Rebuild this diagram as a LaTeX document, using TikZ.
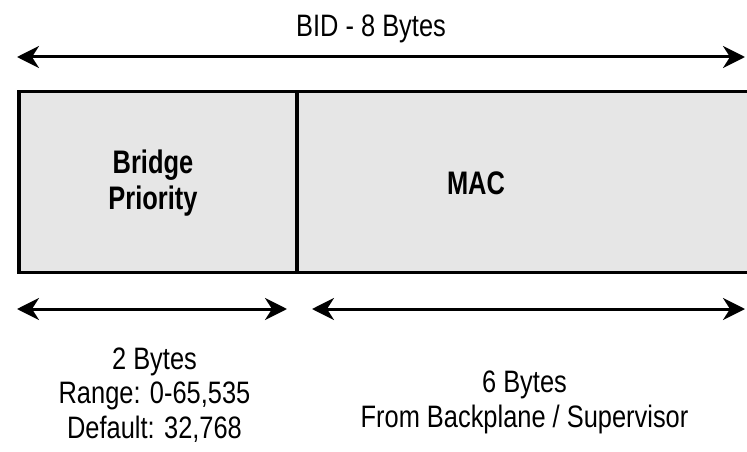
\documentclass[tikz,border=0pt]{standalone}
\usepackage{fontspec}
\newfontfamily\narrowfont{Liberation Sans}[FakeStretch=0.82]
\newfontfamily\narrowbold{Liberation Sans Bold}[FakeStretch=0.78]
\usetikzlibrary{arrows.meta,positioning}
\definecolor{fieldgray}{RGB}{230,230,230}

\begin{document}
\begin{tikzpicture}[x=1pt,y=-1pt,
    every node/.style={inner sep=0pt,font=\narrowfont\fontsize{31}{34.5}\selectfont},
    field/.style={draw,line width=3.5pt,fill=fieldgray,minimum height=181pt,outer sep=0pt},
    fieldname/.style={align=center,font=\narrowbold\fontsize{32.6}{36}\selectfont},
    span/.style={{Stealth[length=22pt,width=22pt,inset=7pt]}-{Stealth[length=22pt,width=22pt,inset=7pt]},
                 line width=3pt}]
  \useasboundingbox (0,0) rectangle (747,452);
  % the two fields of the BID
  \node[field,minimum width=278pt] (prio) at (158,182) {};
  \node[field,minimum width=463pt,anchor=west] (mac) at (prio.east) {};
  \node[fieldname] (prioname) at (153,183) {Bridge\\Priority};
  \node[fieldname] (macname) at (476,183.3) {MAC};
  % whole BID
  \coordinate (bidL) at (17,57);
  \coordinate (bidR) at (745,57);
  \draw[span] (bidL) -- (bidR);
  \node (bid) at (371,29.2) {BID - 8 Bytes};
  % sizes of the fields
  \coordinate (prioL) at (17,309);
  \coordinate (prioR) at (287,309);
  \coordinate (macL) at (312,309);
  \coordinate (macR) at (745,309);
  \draw[span] (prioL) -- (prioR);
  \draw[span] (macL) -- (macR);
  \node[align=center] (prioinfo) at (154.5,395) {2 Bytes\\Range: 0-65,535\\Default: 32,768};
  \node[align=center] (macinfo) at (524.5,402.5) {6 Bytes\\From Backplane / Supervisor};
\end{tikzpicture}
\end{document}
